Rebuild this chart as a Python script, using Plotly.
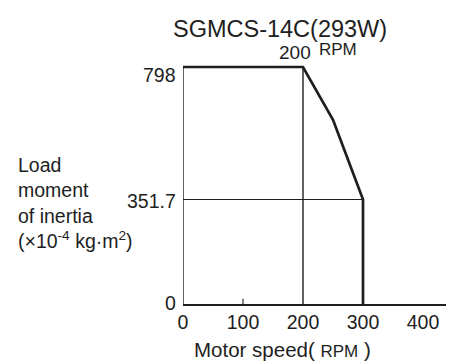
import plotly.graph_objects as go

# Data
curve_speed = [0, 200, 250, 300, 300]
curve_inertia = [798, 798, 620, 351.7, 0]
rated_speed = 200
max_speed = 300
max_inertia = 798
inertia_at_max = 351.7
x_ticks = [0, 100, 200, 300, 400]
y_ticks = [0, 351.7, 798]
y_tick_labels = ["0", "351.7", "798"]

C = "#1e1e1e"
FONT = "Arial, Liberation Sans, sans-serif"

fig = go.Figure()
# thin guide lines
fig.add_trace(go.Scatter(x=[0, 0], y=[0, max_inertia], mode="lines",
                         line=dict(color=C, width=1.4), hoverinfo="skip"))
fig.add_trace(go.Scatter(x=[rated_speed, rated_speed], y=[0, max_inertia], mode="lines",
                         line=dict(color=C, width=1.4), hoverinfo="skip"))
fig.add_trace(go.Scatter(x=[0, max_speed], y=[inertia_at_max, inertia_at_max], mode="lines",
                         line=dict(color=C, width=1.1), hoverinfo="skip"))
fig.add_trace(go.Scatter(x=[100, 100], y=[0, 18], mode="lines",
                         line=dict(color=C, width=1.1), hoverinfo="skip"))
# thick curve
fig.add_trace(go.Scatter(x=curve_speed, y=curve_inertia, mode="lines",
                         line=dict(color=C, width=2.7), hoverinfo="skip"))

annotations = []
shifts = {0: 1, 351.7: -1, 798: -8}
for v, t in zip(y_ticks, y_tick_labels):
    annotations.append(dict(x=0, y=v, xref="x", yref="y", text=t, showarrow=False,
                            xanchor="right", yanchor="middle", xshift=-5, yshift=shifts[v],
                            font=dict(size=19.5, color=C, family=FONT)))
annotations.append(dict(x=rated_speed, y=max_inertia, xref="x", yref="y", text="200",
                        showarrow=False, xanchor="right", yanchor="middle", xshift=10, yshift=15,
                        font=dict(size=19, color=C, family=FONT)))
annotations.append(dict(x=rated_speed, y=max_inertia, xref="x", yref="y", text="RPM",
                        showarrow=False, xanchor="left", yanchor="middle", xshift=14, yshift=18,
                        font=dict(size=17, color=C, family=FONT)))
# y-axis title (left-aligned block)
annotations.append(dict(x=-0.627, y=0.384, xref="paper", yref="paper",
                        text="Load<br>moment<br>of inertia<br>(×10<sup>-4</sup> kg·m<sup>2</sup>)",
                        showarrow=False, xanchor="left", yanchor="middle", align="left",
                        font=dict(size=19.5, color=C, family=FONT)))
annotations.append(dict(x=0.371, y=-0.174, xref="paper", yref="paper",
                        text="Motor speed( <span style='font-size:17px'>RPM</span> )",
                        showarrow=False, xanchor="center", yanchor="middle",
                        font=dict(size=20.5, color=C, family=FONT)))

fig.update_layout(
    width=446, height=356,
    margin=dict(l=175, r=4, t=32, b=60),
    paper_bgcolor="white", plot_bgcolor="white",
    showlegend=False,
    title=dict(text="SGMCS-14C(293W)", x=0.61, xanchor="center", y=0.943, yanchor="middle",
               font=dict(size=23.5, color=C, family=FONT)),
    xaxis=dict(range=[0, 445], tickvals=x_ticks, ticktext=[str(v) for v in x_ticks],
               showgrid=False, zeroline=False, showline=True, linecolor=C, linewidth=1.6,
               ticks="", tickfont=dict(size=19.5, color=C, family=FONT), fixedrange=True),
    yaxis=dict(range=[0, 888.9], showticklabels=False, showgrid=False, zeroline=False,
               showline=False, ticks="", fixedrange=True),
    annotations=annotations,
)

fig.write_html("out.html")
